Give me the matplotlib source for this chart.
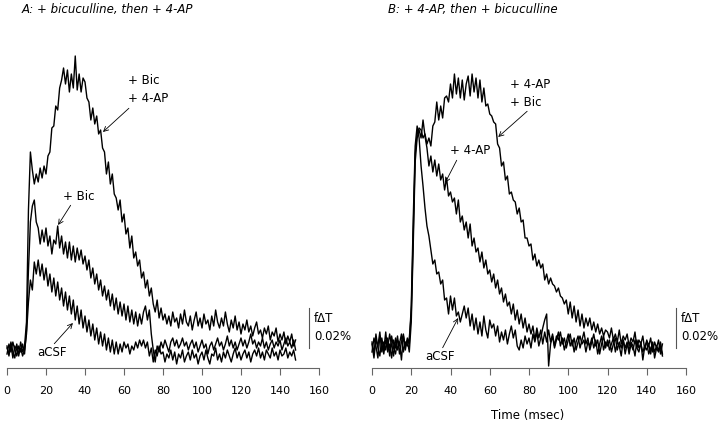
import matplotlib
matplotlib.use("Agg")
import matplotlib.pyplot as plt
import numpy as np

# time base (msec), one sample per msec
t = np.arange(149)

# fractional change in transmittance, units of 0.001 %
# panel A: + bicuculline, then + 4-AP
a_acsf = [
    2, -3, 4, -1, -4, 3, -2, 1, -3, 0,
    8, 24, 35, 30, 44, 38, 45, 37, 43, 35,
    41, 32, 38, 29, 36, 27, 34, 25, 31, 22,
    29, 20, 27, 18, 25, 15, 22, 13, 20, 11,
    17, 9, 15, 7, 13, 5, 11, 3, 9, 2,
    8, 0, 6, -1, 5, -2, 4, -2, 3, -1,
    4, 1, 3, -2, 2, 0, 4, 1, 5, 2,
    5, 1, 4, -3, 1, -6, 0, -3, 2, -2,
    -1, -6, -2, -4, 0, -5, -1, -7, -2, -4,
    0, -6, -3, -1, -5, 0, -4, -2, -7, -3,
    -1, -5, 0, -4, -7, -2, -3, 1, -5, -2,
    -6, -1, -4, 0, -3, -6, -2, 1, -4, -1,
    -5, -2, 0, -4, -1, -6, -2, 0, -3, 1,
    -4, -1, -5, 0, -2, -4, 1, -3, -1, -5,
    0, -3, -2, 1, -4, -1, -3, 0, -5,
]
a_bic = [
    -2, 3, -1, 4, 0, -3, 2, -1, 3, -2,
    10, 40, 64, 72, 75, 64, 61, 53, 60, 54,
    61, 52, 57, 48, 55, 53, 62, 51, 57, 48,
    54, 46, 54, 45, 52, 44, 51, 45, 50, 43,
    47, 40, 45, 36, 41, 33, 38, 30, 35, 27,
    32, 25, 30, 22, 28, 20, 26, 18, 24, 17,
    23, 15, 22, 14, 20, 13, 19, 12, 18, 13,
    19, 22, 15, 20, 8, 0, -6, 2, -1, 4,
    1, 5, 2, -1, 4, 6, 2, 5, 1, 3,
    6, 2, 4, 0, 3, 5, 1, 4, -1, 2,
    5, 1, 3, -2, 2, 4, 0, 3, 6, 2,
    4, 0, 3, 7, 2, 5, 1, 4, 0, 3,
    6, 2, 5, 1, 4, 8, 3, 5, 1, 4,
    2, 6, 1, 4, 0, 3, 5, 1, 4, 2,
    5, 0, 3, 6, 2, 4, 1, 5, 0,
]
a_bic_4ap = [
    1, -2, 3, -4, 2, 0, -3, 4, -1, 2,
    14, 70, 99, 90, 83, 88, 84, 91, 86, 92,
    88, 97, 99, 111, 112, 122, 120, 131, 135, 141,
    133, 140, 129, 138, 131, 147, 130, 138, 129, 136,
    134, 126, 124, 115, 121, 113, 117, 108, 110, 101,
    99, 88, 94, 83, 88, 78, 76, 70, 75, 64,
    68, 58, 61, 51, 57, 46, 49, 42, 45, 36,
    39, 31, 35, 27, 31, 23, 19, 25, 16, 21,
    15, 18, 13, 17, 12, 19, 14, 16, 11, 18,
    13, 20, 14, 12, 17, 10, 15, 19, 12, 16,
    11, 18, 13, 15, 10, 17, 12, 20, 14, 11,
    16, 12, 19, 13, 9, 15, 11, 17, 10, 14,
    8, 13, 10, 15, 9, 12, 7, 11, 14, 8,
    10, 6, 11, 8, 12, 5, 9, 7, 11, 4,
    8, 5, 9, 3, 7, 4, 8, 2, 5,
]

# panel B: + 4-AP, then + bicuculline
b_acsf = [
    4, -2, 8, 1, -3, 6, 0, 9, -1, 3,
    -4, 5, 1, 7, -2, 4, 8, 0, 6, 3,
    22, 65, 102, 112, 106, 92, 82, 71, 62, 57,
    50, 43, 45, 38, 39, 33, 35, 25, 26, 18,
    27, 20, 26, 17, 19, 14, 18, 22, 16, 21,
    12, 18, 10, 16, 8, 14, 7, 17, 10, 6,
    15, 11, 13, 7, 12, 4, 9, 5, 10, 3,
    8, 12, 6, 10, 2, 0, 5, 1, 7, 3,
    6, 1, 8, 4, 9, 2, 6, 11, 15, 18,
    -8, 3, 7, 1, 5, 9, 2, 6, 0, 4,
    8, 2, 5, -1, 4, 7, 1, 5, 9, 3,
    6, 0, 4, 8, 2, 5, -2, 3, 7, 1,
    5, 0, 3, 6, -1, 4, 2, -3, 5, 1,
    4, -2, 3, 0, 5, 1, -1, 4, -5, 2,
    0, 3, -2, 4, -4, 1, -1, 2, -3,
]
b_4ap = [
    -1, 6, 2, -4, 7, 3, -2, 5, 1, 8,
    2, -3, 6, 0, 4, -5, 7, 2, 5, -1,
    14, 52, 94, 106, 110, 106, 115, 107, 101, 92,
    97, 89, 95, 87, 93, 85, 88, 80, 86, 77,
    79, 74, 76, 68, 75, 64, 67, 60, 64, 56,
    63, 52, 56, 49, 51, 44, 49, 41, 45, 38,
    40, 34, 38, 31, 35, 28, 31, 24, 28, 22,
    24, 18, 23, 15, 20, 13, 18, 11, 16, 9,
    13, 8, 12, 5, 11, 6, 10, 3, 9, 4,
    10, 4, 8, 2, 7, 5, 9, 3, 6, 1,
    5, 8, 2, 6, 0, 4, 7, 3, 5, -1,
    4, 2, 6, 1, 5, -2, 3, 7, 0, 4,
    2, 5, -1, 3, 6, 0, 4, 1, 5, -2,
    3, 0, 4, 2, -3, 5, 1, 3, -1, 2,
    4, -2, 1, 3, -1, 2, 0, 4, -2,
]
b_4ap_bic = [
    3, -4, 5, 2, 9, -1, 4, 0, 6, -3,
    7, 1, -2, 5, 3, 8, -1, 4, 2, 6,
    18, 58, 98, 108, 111, 110, 106, 108, 103, 106,
    102, 112, 114, 124, 115, 122, 116, 126, 127, 124,
    133, 126, 138, 128, 136, 126, 135, 125, 133, 137,
    127, 138, 129, 136, 126, 135, 124, 131, 122, 123,
    118, 117, 114, 113, 103, 101, 92, 94, 85, 87,
    78, 79, 75, 74, 68, 71, 64, 65, 56, 56,
    52, 53, 45, 48, 42, 45, 41, 43, 35, 38,
    33, 36, 33, 32, 29, 31, 27, 26, 23, 25,
    18, 24, 16, 22, 14, 20, 12, 18, 11, 16,
    12, 16, 10, 14, 9, 13, 8, 11, 7, 10,
    9, 6, 11, 5, 8, 4, 10, 3, 7, 5,
    8, 2, 6, 4, 9, 1, 5, 3, 7, 0,
    5, 2, 6, -1, 4, 1, 5, -2, 3,
]

xticks = [0, 20, 40, 60, 80, 100, 120, 140, 160]
scale_bar = 20  # 0.02 %

fig = plt.figure(figsize=(7.2, 4.26), dpi=100)
axA = fig.add_axes([7 / 720, 58 / 426, 312 / 720, 328 / 426])
axB = fig.add_axes([372 / 720, 58 / 426, 314 / 720, 328 / 426])

fs = 8.5
arrow = dict(arrowstyle='->', color='black', lw=0.6, shrinkA=0, shrinkB=0)

for ax, traces in [(axA, [a_acsf, a_bic, a_bic_4ap]),
                   (axB, [b_acsf, b_4ap, b_4ap_bic])]:
    for y in traces:
        ax.plot(t, y, color='black', lw=1.0, clip_on=False)
    ax.set_xlim(0, 160)
    ax.set_ylim(-9, 155)
    ax.set_xticks(xticks)
    ax.set_yticks([])
    for s in ['left', 'top', 'right']:
        ax.spines[s].set_visible(False)
    ax.spines['bottom'].set_color('#666666')
    ax.spines['bottom'].set_linewidth(0.8)
    ax.tick_params(axis='x', direction='out', length=5, width=0.8,
                   color='#666666', pad=8, labelsize=8)
    # scale bar
    ax.plot([155, 155], [1, 1 + scale_bar], color='#555555', lw=0.8,
            clip_on=False)
    ax.text(157.5, 11, 'f\u0394T\n0.02%', fontsize=fs, ha='left',
            va='center', linespacing=1.5, clip_on=False)

# panel A labels
axA.annotate('+ Bic\n+ 4-AP', xy=(49.2, 109), xytext=(62, 130),
             fontsize=fs, ha='left', va='center', linespacing=1.5,
             arrowprops=dict(arrow, relpos=(0.1, 0.0)))
axA.annotate('+ Bic', xy=(26.2, 62.5), xytext=(28.7, 77),
             fontsize=fs, ha='left', va='center',
             arrowprops=dict(arrow, relpos=(0.3, 0.0)))
axA.annotate('aCSF', xy=(33.8, 13.5), xytext=(15.4, -1.5),
             fontsize=fs, ha='left', va='center',
             arrowprops=dict(arrow, relpos=(0.5, 1.0)))

# panel B labels
axB.annotate('+ 4-AP\n+ Bic', xy=(64.3, 106.5), xytext=(70.4, 128.5),
             fontsize=fs, ha='left', va='center', linespacing=1.5,
             arrowprops=dict(arrow, relpos=(0.5, 0.0)))
axB.annotate('+ 4-AP', xy=(37.2, 83.5), xytext=(39.8, 99.5),
             fontsize=fs, ha='left', va='center',
             arrowprops=dict(arrow, relpos=(0.2, 0.0)))
axB.annotate('aCSF', xy=(43.9, 16), xytext=(27, -3.5),
             fontsize=fs, ha='left', va='center',
             arrowprops=dict(arrow, relpos=(0.55, 1.0)))

fig.text(22 / 720, 1 - 9 / 426, 'A: + bicuculline, then + 4-AP',
         fontsize=fs, style='italic', ha='left', va='center')
fig.text(388 / 720, 1 - 9 / 426, 'B: + 4-AP, then + bicuculline',
         fontsize=fs, style='italic', ha='left', va='center')
fig.text(528 / 720, 1 - 415 / 426, 'Time (msec)', fontsize=fs,
         ha='center', va='center')

fig.savefig('out.png', dpi=100)
